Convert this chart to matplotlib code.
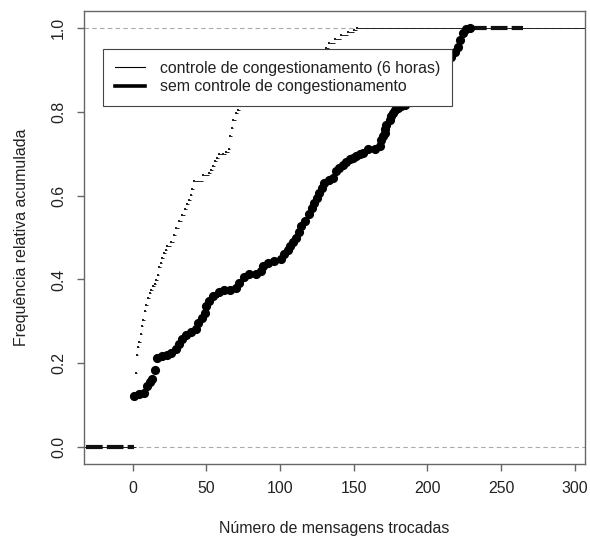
import matplotlib
matplotlib.use('Agg')
import matplotlib.pyplot as plt
from matplotlib.lines import Line2D

plt.rcParams['font.family'] = ['Liberation Sans', 'DejaVu Sans']
plt.rcParams['font.size'] = 11.4

# ecdf, controle de congestionamento (6 horas)
thin_x = [2, 3.2, 3.9, 4.3, 5.9, 6.6, 7, 8.2, 9.3, 10.7, 11.6, 12.7, 13.8, 15.2, 16.1, 17.2,
          17.9, 19, 20.2, 21.5, 22.4, 23.6, 25.9, 28.1, 29.3, 31.5, 33.3, 35.6, 36.7, 38.3,
          39.5, 40.6, 41.7, 47.9, 51.5, 53, 54.6, 56, 57, 58.7, 61, 63.3, 65.1, 66, 67.1,
          68.2, 70, 71.2, 73, 78, 84, 90, 96, 102, 108, 114, 120, 126, 131, 133.6, 137,
          141.5, 146, 150.3, 152]
thin_F = [0.176, 0.219, 0.24, 0.25, 0.27, 0.29, 0.303, 0.325, 0.34, 0.356, 0.368, 0.375,
          0.384, 0.39, 0.398, 0.41, 0.43, 0.44, 0.45, 0.463, 0.47, 0.48, 0.49, 0.505, 0.523,
          0.539, 0.554, 0.569, 0.579, 0.59, 0.602, 0.616, 0.634, 0.65, 0.654, 0.66, 0.67,
          0.683, 0.69, 0.698, 0.70, 0.703, 0.711, 0.743, 0.761, 0.781, 0.798, 0.805, 0.814,
          0.828, 0.842, 0.856, 0.868, 0.88, 0.892, 0.904, 0.916, 0.93, 0.951, 0.964, 0.973,
          0.983, 0.989, 0.995, 1.0]

# ecdf, sem controle de congestionamento
thick_x = [1, 4.3, 7.7, 10, 11.6, 13.4, 15.2, 16.8, 20.2, 23.6, 25.9, 29.3, 31.5, 33.8,
           36.5, 39.5, 42.9, 44.7, 47, 49.2, 50.1, 51.9, 54.6, 58.7, 62.1, 66, 70, 72.3,
           75.7, 79.1, 83.7, 87.1, 88.6, 91.6, 96.1, 100.7, 103, 105.2, 107, 109, 111,
           112.7, 114.3, 117, 120, 121.8, 123.4, 125, 126.8, 128.5, 130.2, 133, 135.8,
           138.1, 140.3, 142.6, 145, 147.2, 149.5, 151.7, 154, 156.3, 159.7, 164.2, 167.6,
           168.7, 169.8, 171, 171.5, 172.1, 174.4, 175.5, 176.7, 178.3, 180.1, 182.4, 184.7,
           190, 195, 200, 205, 210, 213, 216.3, 218.5, 220.9, 222.5, 224.3, 226.5, 228.8]
thick_F = [0.122, 0.126, 0.13, 0.146, 0.155, 0.163, 0.184, 0.213, 0.217, 0.219, 0.225,
           0.233, 0.245, 0.257, 0.267, 0.274, 0.281, 0.297, 0.309, 0.32, 0.336, 0.348, 0.36,
           0.37, 0.375, 0.376, 0.38, 0.392, 0.406, 0.412, 0.413, 0.42, 0.433, 0.44, 0.444,
           0.448, 0.46, 0.471, 0.48, 0.49, 0.50, 0.513, 0.527, 0.54, 0.555, 0.57, 0.583,
           0.595, 0.606, 0.618, 0.63, 0.636, 0.642, 0.658, 0.666, 0.674, 0.68, 0.686, 0.69,
           0.694, 0.698, 0.702, 0.71, 0.711, 0.717, 0.733, 0.741, 0.749, 0.759, 0.769, 0.781,
           0.789, 0.797, 0.803, 0.809, 0.813, 0.817, 0.832, 0.847, 0.862, 0.877, 0.892, 0.905,
           0.931, 0.943, 0.955, 0.97, 0.987, 0.997, 1.0]

labels = ['controle de congestionamento (6 horas)', 'sem controle de congestionamento']
xmin, xmax = -33, 307

fig = plt.figure(figsize=(5.9, 5.38), dpi=100)
ax = fig.add_axes([84/590, 1 - 464/538, (585 - 84)/590, (464 - 11)/538])

ax.axhline(0, color='#aaaaaa', lw=0.8, ls=(0, (4, 3)), zorder=1)
ax.axhline(1, color='#aaaaaa', lw=0.8, ls=(0, (4, 3)), zorder=1)

# thin steps (horizontal parts only) + small dots
ax.hlines([0] + thin_F, [xmin] + thin_x, thin_x + [xmax], color='#222222', lw=0.7, zorder=2)
ax.plot(thin_x, thin_F, 's', ms=1.5, mew=0, color='#222222', zorder=3)

# thick steps, dashed, + big points
ax.hlines([0] + thick_F, [xmin + 1.5] + thick_x, thick_x + [265], color='#111111', lw=3,
          linestyles=[(0, (4, 1))], zorder=2)
ax.plot(thick_x, thick_F, 'o', ms=6.6, mew=0, color='black', zorder=3)

ax.set_xlim(xmin, xmax)
ax.set_ylim(-0.04, 1.04)
ax.set_xticks([0, 50, 100, 150, 200, 250, 300])
ax.set_yticks([0, 0.2, 0.4, 0.6, 0.8, 1.0])
ax.set_yticklabels(['0.0', '0.2', '0.4', '0.6', '0.8', '1.0'], rotation=90, va='center')
for s in ax.spines.values():
    s.set_color('#666666')
    s.set_linewidth(1.0)
ax.tick_params(length=5, width=1, color='#666666', labelcolor='#222222')
ax.tick_params(axis='x', pad=7)
ax.tick_params(axis='y', pad=8)

ax.set_xlabel('Número de mensagens trocadas', labelpad=18, color='#222222')
ax.set_ylabel('Frequência relativa acumulada', labelpad=16, color='#222222')

handles = [Line2D([], [], color='black', lw=0.8), Line2D([], [], color='black', lw=2.6)]
leg = ax.legend(handles, labels, loc='upper left',
                bbox_to_anchor=((103 - 84)/501, (464 - 49)/453), borderaxespad=0,
                fancybox=False, framealpha=1, edgecolor='#444444', handlelength=1.9,
                handletextpad=0.95, borderpad=0.75, labelspacing=0.2)
leg.get_frame().set_linewidth(0.8)
leg.set_zorder(5)
for t in leg.get_texts():
    t.set_color('#222222')

fig.savefig('out.png', dpi=100)
